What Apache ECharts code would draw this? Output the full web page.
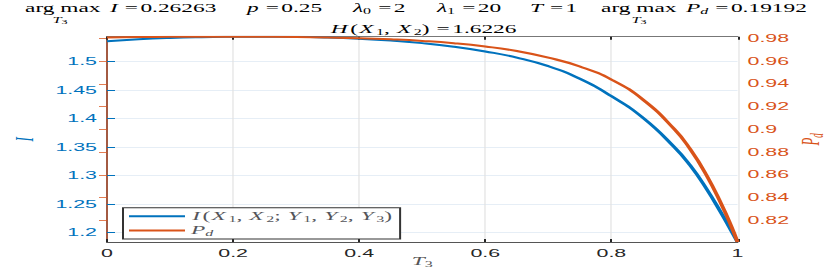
<!DOCTYPE html>
<html>
<head>
<meta charset="utf-8">
<script src="https://cdn.jsdelivr.net/npm/echarts@6.0.0/dist/echarts.min.js"></script>
<style>
html,body{margin:0;padding:0;background:#fff;overflow:hidden;}
/* the figure is drawn at half width and stretched, like the reference */
#chart{width:415px;height:273px;transform:scaleX(2);transform-origin:0 0;}
</style>
</head>
<body>
<div id="chart"></div>
<script>
var T3 = [0, 0.05, 0.1, 0.15, 0.2, 0.25, 0.3, 0.35, 0.4, 0.45, 0.5, 0.55, 0.6, 0.65, 0.7, 0.75, 0.8, 0.85, 0.9, 0.925, 0.95, 0.975, 0.99, 1];
var I_VALUES = [1.5360, 1.5395, 1.5418, 1.5431, 1.5437, 1.5439, 1.5436, 1.5424, 1.5402, 1.5370, 1.5326, 1.5264, 1.5180, 1.5073, 1.4922, 1.4700, 1.4395, 1.4016, 1.3500, 1.3180, 1.2785, 1.2330, 1.2035, 1.1837];
var PD_VALUES = [0.9808, 0.9811, 0.9813, 0.9814, 0.9814, 0.9813, 0.9811, 0.9807, 0.9801, 0.9791, 0.9777, 0.9757, 0.9728, 0.9688, 0.9630, 0.9552, 0.9437, 0.9261, 0.9000, 0.8825, 0.8605, 0.8335, 0.8150, 0.8009];
var LEFT_TICKS = [1.2, 1.25, 1.3, 1.35, 1.4, 1.45, 1.5];
var RIGHT_TICKS = [0.82, 0.84, 0.86, 0.88, 0.9, 0.92, 0.94, 0.96, 0.98];

var BLUE = '#0072BD', ORANGE = '#D95319', DARK = '#262626';
var serif = '"Liberation Serif", "DejaVu Serif", serif';
var sans = '"Liberation Sans", Arial, sans-serif';

// r: roman, i: italic, v: italic variable (a bit wider, like TeX), e: equals sign, s/si: subscripts
var rich = {
    r: {fontFamily: serif, fontSize: 11.7, lineHeight: 14},
    i: {fontFamily: serif, fontSize: 11.7, fontStyle: 'italic', lineHeight: 14},
    v: {fontFamily: serif, fontSize: 11.7, fontStyle: 'italic', lineHeight: 14, padding: [0, 1.3, 0, 0.6]},
    e: {fontFamily: serif, fontSize: 11.7, lineHeight: 14, padding: [0, 1.2, 0, 0.6]},
    s: {fontFamily: serif, fontSize: 8, lineHeight: 8, verticalAlign: 'bottom'},
    si: {fontFamily: serif, fontSize: 8, fontStyle: 'italic', lineHeight: 8, verticalAlign: 'bottom'}
};
var subRich = {
    si: {fontFamily: serif, fontSize: 8.2, fontStyle: 'italic', lineHeight: 10},
    s: {fontFamily: serif, fontSize: 6, lineHeight: 6, verticalAlign: 'bottom'}
};

function txt(x, y, s, r, align) {
    return {
        type: 'text', x: x, y: y, silent: true,
        style: {text: s, rich: r || rich, align: align || 'left', verticalAlign: 'middle',
            fontFamily: serif, fontSize: 11.7, fill: '#000'}
    };
}

var titleParts = [
    txt(12.5, 8, '{r|arg max}'),
    txt(30, 20, '{si|T}{s|3}', subRich, 'center'),
    txt(55, 8, '{i|I} {e|=}{r|0.26263}'),
    txt(123.5, 8, '{i|p} {e|=}{r|0.25}'),
    txt(176.5, 8, '{i|λ}{s|0} {e|=}{r|2}'),
    txt(218.5, 8, '{i|λ}{s|1} {e|=}{r|20}'),
    txt(265, 8, '{i|T} {e|=}{r|1}'),
    txt(300.5, 8, '{r|arg max}'),
    txt(319.5, 20, '{si|T}{s|3}', subRich, 'center'),
    txt(343, 8, '{i|P}{si|d} {e|=}{r|0.19192}'),
    txt(211.5, 29, '{v|H}{r|(}{v|X}{s|1}{r|, }{v|X}{s|2}{r|) }{e|=}{r|1.6226}', rich, 'center')
];

var chart = echarts.init(document.getElementById('chart'), null, {renderer: 'svg'});

var option = {
    animation: false,
    backgroundColor: '#fff',
    grid: {left: 53.5, right: 46.25, top: 36.7, bottom: 31, containLabel: false, outerBoundsMode: 'none'},
    graphic: titleParts,
    legend: {
        orient: 'vertical',
        left: 61.5,
        top: 207.7,
        padding: [1.5, 4, 1.5, 3],
        itemGap: 0.3,
        itemWidth: 28,
        itemHeight: 2,
        icon: 'rect',
        borderColor: '#333',
        borderWidth: 1,
        backgroundColor: '#fff',
        formatter: function (name) {
            if (name === 'Pd') return '{i|P}{si|d}';
            return '{v|I}{r|(}{v|X}{s|1}{r|, }{v|X}{s|2}{r|; }{v|Y}{s|1}{r|, }{v|Y}{s|2}{r|, }{v|Y}{s|3}{r|)}';
        },
        textStyle: {rich: rich, lineHeight: 12, padding: [0, 0, 0, -2]}
    },
    xAxis: [
        {
            type: 'value', min: 0, max: 1, interval: 0.2,
            name: '{i|T}{s|3}', nameLocation: 'middle', nameGap: 12, nameMoveOverlap: false,
            nameTextStyle: {rich: rich},
            axisLine: {show: true, lineStyle: {color: '#555', width: 1}},
            axisTick: {show: true, inside: true, length: 3, lineStyle: {color: DARK}},
            axisLabel: {color: DARK, fontFamily: sans, fontSize: 10.7, margin: 6},
            splitLine: {show: true, lineStyle: {color: '#e2e2e2', width: 0.6}}
        },
        {
            type: 'value', min: 0, max: 1, interval: 0.2, position: 'top',
            axisLine: {show: true, lineStyle: {color: '#777', width: 1}},
            axisTick: {show: true, inside: true, length: 3, lineStyle: {color: DARK}},
            axisLabel: {show: false},
            splitLine: {show: false}
        }
    ],
    yAxis: [
        {
            type: 'value', min: 1.1837, max: 1.5439, position: 'left',
            name: 'I', nameLocation: 'middle', nameRotate: 90, nameGap: 35, nameMoveOverlap: false,
            nameTextStyle: {fontFamily: serif, fontStyle: 'italic', fontSize: 13, color: BLUE},
            axisLine: {show: true, lineStyle: {color: BLUE, width: 1}},
            axisTick: {show: true, inside: true, length: 4, customValues: LEFT_TICKS, lineStyle: {color: BLUE}},
            axisLabel: {customValues: LEFT_TICKS, color: BLUE, fontFamily: sans, fontSize: 10.7, margin: 5},
            splitLine: {show: true, lineStyle: {color: '#e6eef6', width: 1}}
        },
        {
            type: 'value', min: 0.8009, max: 0.9814, position: 'right',
            name: '{i|P}{si|d}', nameLocation: 'middle', nameRotate: 90, nameGap: 29, nameMoveOverlap: false,
            nameTextStyle: {color: ORANGE, rich: {
                i: {fontFamily: serif, fontSize: 13, fontStyle: 'italic', color: ORANGE, lineHeight: 15},
                si: {fontFamily: serif, fontSize: 9, fontStyle: 'italic', color: ORANGE, lineHeight: 9, verticalAlign: 'bottom'}
            }},
            axisLine: {show: true, lineStyle: {color: ORANGE, width: 1, opacity: 0.75}},
            axisTick: {show: true, inside: true, length: 4, customValues: RIGHT_TICKS, lineStyle: {color: ORANGE, opacity: 0.75}},
            axisLabel: {customValues: RIGHT_TICKS, color: ORANGE, fontFamily: sans, fontSize: 10.7, margin: 5},
            splitLine: {show: false}
        }
    ],
    series: [
        {
            name: 'I(X1, X2; Y1, Y2, Y3)',
            type: 'line',
            xAxisIndex: 0,
            yAxisIndex: 0,
            smooth: true,
            symbol: 'none',
            color: BLUE,
            lineStyle: {width: 2, color: BLUE},
            data: T3.map(function (t, i) { return [t, I_VALUES[i]]; })
        },
        {
            name: 'Pd',
            type: 'line',
            xAxisIndex: 0,
            yAxisIndex: 1,
            smooth: true,
            symbol: 'none',
            color: ORANGE,
            lineStyle: {width: 2, color: ORANGE},
            data: T3.map(function (t, i) { return [t, PD_VALUES[i]]; })
        }
    ]
};

chart.setOption(option);
</script>
</body>
</html>
